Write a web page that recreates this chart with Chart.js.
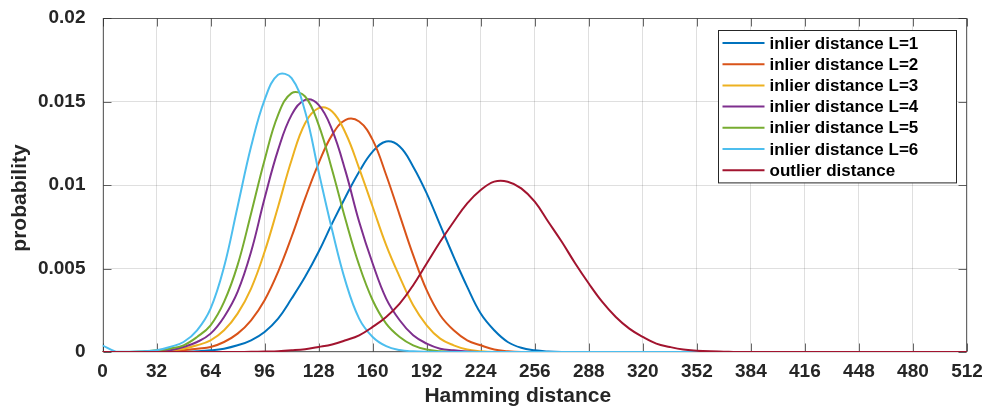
<!DOCTYPE html>
<html>
<head>
<meta charset="utf-8">
<script src="https://cdn.jsdelivr.net/npm/chart.js@4.4.1/dist/chart.umd.min.js"></script>
<style>
  html, body { margin: 0; padding: 0; background: #fff; }
  #wrap { width: 982px; height: 412px; }
</style>
</head>
<body>
<div id="wrap"><canvas id="chart" width="982" height="412"></canvas></div>
<script>
// Hamming distance samples (read every 8 bits)
const distance = [
  0, 8, 16, 24, 32, 40, 48, 56, 64, 72, 80, 88, 96, 104, 112, 120,
  128, 136, 144, 152, 160, 168, 176, 184, 192, 200, 208, 216, 224, 232, 240, 248,
  256, 264, 272, 280, 288, 296, 304, 312, 320, 328, 336, 344, 352, 360, 368, 376,
  384, 392, 400, 408, 416, 424, 432, 440, 448, 456, 464, 472, 480, 488, 496, 504, 512,
];

// probability values, one per distance sample
const inlierL1 = [
  0, 0, 0, 0, 0, 0.00001, 0.00003, 0.00005, 0.0001, 0.0002, 0.0004, 0.0007, 0.0012, 0.002, 0.0032, 0.0045,
  0.006, 0.0077, 0.0093, 0.0108, 0.012, 0.0126, 0.0123, 0.0111, 0.0095, 0.0076, 0.0057, 0.0039, 0.0023, 0.0013, 0.0006, 0.00025,
  0.0001, 0.00003, 0, 0, 0, 0, 0, 0, 0, 0, 0, 0, 0, 0, 0, 0,
  0, 0, 0, 0, 0, 0, 0, 0, 0, 0, 0, 0, 0, 0, 0, 0, 0,
];
const inlierL2 = [
  0, 0, 0, 0, 0.00002, 0.00005, 0.0001, 0.0002, 0.0003, 0.0006, 0.0011, 0.0019, 0.0031, 0.0048, 0.0069, 0.0092,
  0.0113, 0.013, 0.0139, 0.0138, 0.0127, 0.0106, 0.0082, 0.0058, 0.0037, 0.0022, 0.0013, 0.0007, 0.0004, 0.00015, 0.00005, 0,
  0, 0, 0, 0, 0, 0, 0, 0, 0, 0, 0, 0, 0, 0, 0, 0,
  0, 0, 0, 0, 0, 0, 0, 0, 0, 0, 0, 0, 0, 0, 0, 0, 0,
];
const inlierL3 = [
  0, 0, 0, 0, 0.00003, 0.0001, 0.0002, 0.0004, 0.0007, 0.0013, 0.0023, 0.0038, 0.006, 0.0087, 0.0115, 0.0137,
  0.0146, 0.0144, 0.0131, 0.011, 0.0087, 0.0064, 0.0045, 0.0028, 0.0016, 0.0008, 0.0004, 0.00015, 0.00005, 0, 0, 0,
  0, 0, 0, 0, 0, 0, 0, 0, 0, 0, 0, 0, 0, 0, 0, 0,
  0, 0, 0, 0, 0, 0, 0, 0, 0, 0, 0, 0, 0, 0, 0, 0, 0,
];
const inlierL4 = [
  0, 0, 0, 0, 0.00005, 0.0001, 0.0003, 0.0006, 0.0011, 0.0021, 0.0036, 0.006, 0.0092, 0.0121, 0.0142, 0.0151,
  0.0148, 0.0133, 0.0108, 0.0078, 0.0053, 0.0032, 0.0019, 0.001, 0.0005, 0.0002, 0.0001, 0.00003, 0, 0, 0, 0,
  0, 0, 0, 0, 0, 0, 0, 0, 0, 0, 0, 0, 0, 0, 0, 0,
  0, 0, 0, 0, 0, 0, 0, 0, 0, 0, 0, 0, 0, 0, 0, 0, 0,
];
const inlierL5 = [
  0, 0, 0, 0.00003, 0.0001, 0.0002, 0.0004, 0.0009, 0.0016, 0.003, 0.0052, 0.0083, 0.0115, 0.0142, 0.0155, 0.0153,
  0.0136, 0.0109, 0.0079, 0.0052, 0.0031, 0.0017, 0.0009, 0.0004, 0.00015, 0.00005, 0, 0, 0, 0, 0, 0,
  0, 0, 0, 0, 0, 0, 0, 0, 0, 0, 0, 0, 0, 0, 0, 0,
  0, 0, 0, 0, 0, 0, 0, 0, 0, 0, 0, 0, 0, 0, 0, 0, 0,
];
const inlierL6 = [
  0.0004, 0.00002, 0.00002, 0.00005, 0.0001, 0.0003, 0.0006, 0.0013, 0.0026, 0.0051, 0.0087, 0.0123, 0.0151, 0.0166, 0.0164, 0.0144,
  0.0108, 0.0073, 0.0042, 0.002, 0.0009, 0.00035, 0.00012, 0.00004, 0.00001, 0, 0, 0, 0, 0, 0, 0,
  0, 0, 0, 0, 0, 0, 0, 0, 0, 0, 0, 0, 0, 0, 0, 0,
  0, 0, 0, 0, 0, 0, 0, 0, 0, 0, 0, 0, 0, 0, 0, 0, 0,
];
const outlier = [
  0, 0, 0, 0, 0, 0, 0, 0, 0, 0, 0, 0.00001, 0.00003, 0.00005, 0.0001, 0.00017,
  0.0003, 0.00045, 0.0007, 0.001, 0.0015, 0.0021, 0.0029, 0.004, 0.0053, 0.0066, 0.0078, 0.0089, 0.0097, 0.0102, 0.0102, 0.0098,
  0.009, 0.0078, 0.0066, 0.0053, 0.0041, 0.003, 0.0021, 0.0014, 0.0009, 0.0005, 0.0003, 0.00015, 0.00008, 0.00004, 0.00002, 0,
  0, 0, 0, 0, 0, 0, 0, 0, 0, 0, 0, 0, 0, 0, 0, 0, 0,
];

const seriesLabels = [
  "inlier distance L=1",
  "inlier distance L=2",
  "inlier distance L=3",
  "inlier distance L=4",
  "inlier distance L=5",
  "inlier distance L=6",
  "outlier distance",
];
const seriesValues = [inlierL1, inlierL2, inlierL3, inlierL4, inlierL5, inlierL6, outlier];
const seriesColors = ["#0072BD", "#D95319", "#EDB120", "#7E2F8E", "#77AC30", "#4DBEEE", "#A2142F"];

// axis ticks
const xTicks = [0, 32, 64, 96, 128, 160, 192, 224, 256, 288, 320, 352, 384, 416, 448, 480, 512];
const yTicks = [0, 0.005, 0.01, 0.015, 0.02];
const yTickLabels = ["0", "0.005", "0.01", "0.015", "0.02"];

const FONT = "'Liberation Sans', Arial, Helvetica, sans-serif";
const gridColor = "rgba(38, 38, 38, 0.15)";
const axisColor = "rgba(38, 38, 38, 0.7)";

// MATLAB style box with inward ticks, drawn under the curves
const axesBox = {
  id: "axesBox",
  beforeDatasetsDraw(chart) {
    const { ctx, chartArea: a, scales } = chart;
    const L = Math.round(a.left) + 0.5, R = Math.round(a.right) - 0.5;
    const T = Math.round(a.top) + 0.5, B = Math.round(a.bottom) - 0.5;
    const len = 8;
    ctx.save();
    ctx.strokeStyle = axisColor;
    ctx.lineWidth = 1;
    ctx.strokeRect(L, T, R - L, B - T);
    ctx.beginPath();
    xTicks.forEach((v) => {
      const x = Math.round(scales.x.getPixelForValue(v)) + 0.5;
      ctx.moveTo(x, B); ctx.lineTo(x, B - len);
      ctx.moveTo(x, T); ctx.lineTo(x, T + len);
    });
    yTicks.forEach((v) => {
      const y = Math.round(scales.y.getPixelForValue(v)) + 0.5;
      ctx.moveTo(L, y); ctx.lineTo(L + len, y);
      ctx.moveTo(R, y); ctx.lineTo(R - len, y);
    });
    ctx.stroke();
    ctx.restore();
  },
};

// axis titles (placed like the original, a bit toward the origin)
const axisTitles = {
  id: "axisTitles",
  afterDraw(chart) {
    const { ctx, chartArea: a } = chart;
    ctx.save();
    ctx.fillStyle = "#262626";
    ctx.font = "bold 21px " + FONT;
    ctx.textAlign = "center";
    ctx.textBaseline = "middle";
    ctx.fillText("Hamming distance", (a.left + a.right) / 2 - 17, 396);
    ctx.translate(20, (a.top + a.bottom) / 2 + 13);
    ctx.rotate(-Math.PI / 2);
    ctx.fillText("probability", 0, 0);
    ctx.restore();
  },
};

// legend box inside the top right corner of the plot
const legendBox = {
  id: "legendBox",
  afterDraw(chart) {
    const { ctx, chartArea: a } = chart;
    const rowH = 21.2;
    const w = 238;
    const n = chart.data.datasets.length;
    const h = rowH * n + 4;
    const left = Math.round(a.right - 11.5 - w) + 0.5;
    const top = Math.round(a.top + 12) + 0.5;
    ctx.save();
    ctx.fillStyle = "#fff";
    ctx.fillRect(left, top, w, h);
    ctx.strokeStyle = "#262626";
    ctx.lineWidth = 1;
    ctx.strokeRect(left, top, w, h);
    ctx.font = "bold 17px " + FONT;
    ctx.textBaseline = "middle";
    chart.data.datasets.forEach((ds, i) => {
      const y = top + 12.5 + i * rowH;
      ctx.strokeStyle = ds.borderColor;
      ctx.lineWidth = 2;
      ctx.beginPath();
      ctx.moveTo(left + 4, y);
      ctx.lineTo(left + 46, y);
      ctx.stroke();
      ctx.fillStyle = "#000";
      ctx.fillText(ds.label, left + 51, y + 1);
    });
    ctx.restore();
  },
};

const datasets = seriesLabels.map((label, i) => ({
  label: label,
  data: distance.map((d, j) => ({ x: d, y: seriesValues[i][j] })),
  borderColor: seriesColors[i],
  backgroundColor: seriesColors[i],
  borderWidth: 2,
  pointRadius: 0,
  fill: false,
  tension: 0.4,
  order: seriesLabels.length - 1 - i, // later series drawn on top
}));

const tickFont = { family: FONT, size: 19, weight: "bold" };

new Chart(document.getElementById("chart"), {
  type: "line",
  data: { datasets: datasets },
  options: {
    responsive: false,
    animation: false,
    devicePixelRatio: 1,
    layout: { padding: { left: 0, top: 18, right: 15, bottom: 0 } },
    plugins: {
      legend: { display: false },
      tooltip: { enabled: false },
      title: { display: false },
    },
    scales: {
      x: {
        type: "linear",
        min: 0,
        max: 512,
        afterBuildTicks: (s) => { s.ticks = xTicks.map((v) => ({ value: v })); },
        afterFit: (s) => {
          s.height = 60;
          s.paddingLeft = 0;
          s.paddingRight = 0;
        },
        grid: { color: gridColor, drawTicks: false, lineWidth: 1 },
        border: { display: false },
        ticks: { padding: 8, color: "#262626", font: tickFont, maxRotation: 0, autoSkip: false },
      },
      y: {
        type: "linear",
        min: 0,
        max: 0.02,
        afterBuildTicks: (s) => { s.ticks = yTicks.map((v) => ({ value: v })); },
        afterFit: (s) => {
          s.width = 102.5;
          s.paddingTop = 0;
          s.paddingBottom = 0;
        },
        grid: { color: gridColor, drawTicks: false, lineWidth: 1 },
        border: { display: false },
        ticks: {
          padding: 17,
          color: "#262626",
          font: tickFont,
          callback: (v) => yTickLabels[yTicks.indexOf(v)],
        },
      },
    },
  },
  plugins: [axesBox, axisTitles, legendBox],
});
</script>
</body>
</html>
